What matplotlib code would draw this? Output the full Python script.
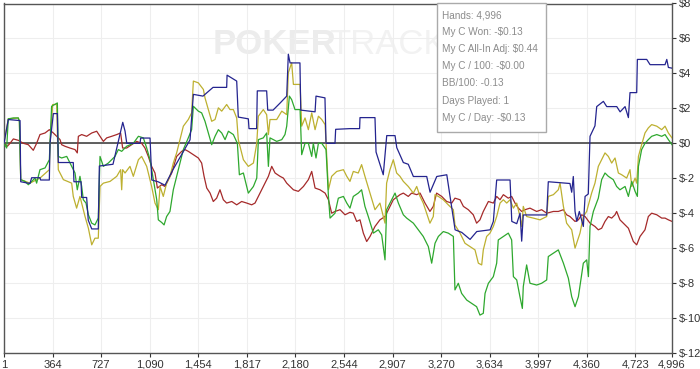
import matplotlib
matplotlib.use("Agg")
from matplotlib import pyplot as plt
from matplotlib.patches import Rectangle

# hands played (x) and cumulative winnings in $ (y)
blue_h = [1, 33, 121, 126, 195, 208, 270, 275, 340, 345, 370, 400, 407, 519, 524, 577, 582, 619, 631, 657,
          706, 714, 816, 889, 906, 919, 1018, 1023, 1093, 1106, 1153, 1205, 1265, 1340, 1392, 1417, 1489, 1564, 1666, 1669,
          1741, 1753, 1828, 1833, 1890, 1895, 1965, 1973, 2013, 2065, 2115, 2127, 2140, 2214, 2220, 2327, 2334, 2401, 2409, 2476,
          2481, 2588, 2660, 2663, 2775, 2783, 2837, 2863, 2925, 2938, 2987, 3024, 3062, 3162, 3187, 3237, 3312, 3374, 3424, 3486,
          3536, 3636, 3660, 3685, 3785, 3798, 3835, 3860, 3872, 3884, 4059, 4071, 4233, 4246, 4258, 4271, 4284, 4303, 4333, 4346,
          4370, 4383, 4420, 4433, 4483, 4508, 4583, 4608, 4645, 4670, 4682, 4732, 4737, 4807, 4832, 4944, 4957, 4969, 4996]
blue_v = [0.0, 1.36, 1.3, -2.2, -2.3, -1.97, -1.97, -2.1, -2.1, 0.0, 1.7, 1.7, -1.1, -1.1, -2.2, -2.2, -3.1, -3.1, -4.4, -4.9,
          -4.9, -1.3, -1.2, 1.2, 0.7, 0.0, 0.0, 0.3, 0.3, -2.1, -2.2, -2.4, -1.5, -0.5, 0.2, 2.8, 2.7, 3.2, 3.2, 3.9,
          3.56, 1.5, 1.4, 0.84, 0.84, 3.0, 3.0, 1.9, 1.9, 2.3, 2.7, 5.1, 4.6, 4.6, 1.9, 1.8, 2.7, 2.6, 0.0, 0.0,
          0.8, 0.84, 0.84, 1.47, 1.47, -0.5, -1.8, 0.44, 0.44, -0.25, -1.1, -1.2, -1.9, -1.9, -2.8, -1.9, -1.8, -4.95, -5.1, -5.5,
          -5.05, -4.95, -4.47, -2.1, -2.1, -4.47, -4.6, -4.0, -5.6, -4.1, -4.1, -2.2, -2.3, -2.8, -1.9, -3.9, -4.47, -3.9, -4.76, -3.04,
          -2.9, 0.4, 1.0, 2.1, 2.4, 2.1, 2.1, 1.8, 2.1, 1.47, 2.9, 2.9, 4.8, 4.8, 4.5, 4.5, 4.8, 4.34, 4.3]

yellow_h = [1, 33, 108, 116, 126, 195, 270, 340, 345, 365, 395, 407, 445, 507, 519, 544, 569, 607, 632, 657,
            681, 706, 719, 744, 794, 844, 873, 881, 888, 906, 943, 968, 1006, 1030, 1068, 1105, 1130, 1155, 1168, 1192,
            1217, 1242, 1267, 1292, 1317, 1342, 1379, 1404, 1417, 1454, 1492, 1504, 1529, 1554, 1579, 1604, 1629, 1666, 1691, 1716,
            1741, 1753, 1791, 1828, 1866, 1891, 1903, 1940, 1965, 1978, 1990, 2040, 2078, 2115, 2127, 2152, 2165, 2215, 2227, 2252,
            2277, 2302, 2327, 2352, 2377, 2402, 2427, 2451, 2489, 2539, 2564, 2588, 2613, 2650, 2675, 2700, 2738, 2775, 2812, 2850,
            2862, 2887, 2912, 2937, 2962, 2987, 3024, 3062, 3087, 3112, 3136, 3161, 3186, 3211, 3224, 3249, 3286, 3323, 3361, 3373,
            3411, 3448, 3485, 3523, 3548, 3573, 3585, 3610, 3635, 3660, 3685, 3710, 3735, 3760, 3785, 3810, 3835, 3859, 3872, 3884,
            3909, 3959, 4009, 4059, 4071, 4109, 4146, 4159, 4184, 4208, 4246, 4271, 4308, 4333, 4358, 4395, 4420, 4445, 4470, 4495,
            4520, 4545, 4570, 4595, 4620, 4657, 4682, 4695, 4720, 4732, 4745, 4769, 4794, 4819, 4844, 4882, 4919, 4944, 4969, 4996]
yellow_v = [0.0, 1.40, 1.45, 1.26, -2.08, -2.28, -1.99, -1.51, 0.0, 2.22, 2.22, -1.51, -2.08, -2.28, -3.04, -3.71, -3.04, -4.19, -4.86, -5.81,
            -5.43, -5.43, -2.47, -2.28, -2.18, -1.89, -1.51, -2.66, -1.51, -1.70, -1.32, -1.89, -0.94, -0.75, -1.32, -2.47, -3.42, -3.80, -2.47, -3.04,
            -2.28, -1.89, -1.13, -0.55, 0.21, 0.98, 1.36, 1.74, 3.56, 3.46, 3.08, 2.60, 1.93, 1.26, 1.36, 2.03, 1.84, 2.22, 1.93, 1.93,
            1.45, 0.21, -0.94, -1.32, -1.13, 0.0, 1.55, 1.93, 1.64, 0.50, 1.36, 1.36, 1.84, 1.64, 4.03, 4.61, 3.37, 3.37, 0.98, 1.45,
            0.78, 1.74, 0.78, 1.55, 1.36, 1.07, -2.66, -1.89, -1.61, -1.51, -1.89, -2.18, -1.61, -1.70, -1.22, -1.89, -2.85, -3.80, -3.42, -4.57,
            -2.28, -1.51, -0.94, -1.70, -1.89, -2.18, -2.47, -2.85, -2.47, -3.04, -3.42, -4.00, -4.57, -4.19, -2.94, -3.04, -3.23, -3.52, -3.80, -4.67,
            -5.14, -5.72, -5.91, -6.10, -6.86, -6.96, -6.10, -5.33, -5.14, -4.76, -4.19, -3.42, -3.23, -3.42, -3.23, -3.71, -3.42, -4.19, -4.76, -3.61,
            -4.19, -4.28, -4.38, -4.19, -3.04, -2.94, -2.66, -2.28, -3.61, -4.57, -4.95, -6.00, -5.14, -4.19, -3.90, -2.85, -2.28, -1.32, -0.94, -0.55,
            -0.75, -1.13, -0.84, -1.70, -1.80, -1.99, -1.51, -2.47, -1.99, -2.28, -0.75, -0.08, 0.59, 0.88, 1.07, 0.98, 0.78, 0.98, 0.59, 0.31]

green_h = [1, 21, 33, 71, 108, 116, 126, 158, 183, 208, 233, 245, 270, 308, 340, 345, 357, 400, 407, 432,
           470, 507, 532, 549, 569, 582, 594, 614, 632, 657, 681, 706, 719, 744, 781, 831, 856, 881, 918, 968,
           1006, 1043, 1068, 1093, 1118, 1143, 1155, 1180, 1198, 1217, 1242, 1267, 1292, 1317, 1342, 1379, 1404, 1417, 1454, 1479,
           1504, 1529, 1554, 1579, 1604, 1629, 1654, 1679, 1716, 1746, 1761, 1791, 1828, 1866, 1891, 1903, 1940, 1965, 1978, 1990,
           2040, 2078, 2102, 2115, 2135, 2152, 2177, 2215, 2227, 2252, 2277, 2302, 2314, 2334, 2352, 2377, 2409, 2427, 2439, 2476,
           2501, 2539, 2564, 2588, 2613, 2650, 2675, 2700, 2725, 2763, 2800, 2825, 2850, 2862, 2887, 2925, 2950, 2987, 3012, 3062,
           3099, 3136, 3174, 3199, 3224, 3249, 3286, 3323, 3361, 3373, 3398, 3423, 3461, 3498, 3535, 3560, 3585, 3598, 3623, 3660,
           3685, 3697, 3735, 3772, 3797, 3810, 3835, 3859, 3877, 3884, 3909, 3934, 3984, 4021, 4059, 4071, 4109, 4146, 4184, 4221,
           4246, 4271, 4296, 4333, 4358, 4371, 4383, 4408, 4445, 4470, 4495, 4520, 4557, 4582, 4607, 4645, 4670, 4695, 4720, 4737,
           4745, 4769, 4794, 4819, 4844, 4882, 4919, 4944, 4969, 4996]
green_v = [0.0, -0.27, 1.40, 1.45, 1.45, 1.26, -2.08, -2.18, -2.37, -2.18, -1.99, -2.28, -1.51, -1.41, -0.94, 0.0, 2.12, 2.31, -0.75, -0.84,
           -0.75, -1.32, -1.70, -2.66, -1.89, -2.47, -3.23, -3.42, -4.09, -4.57, -4.67, -4.28, -0.75, -1.32, -1.13, -0.75, -0.36, -0.46, -0.17, 0.0,
           0.40, 0.31, -0.27, -0.94, -2.08, -3.23, -4.38, -4.53, -4.67, -4.19, -3.90, -2.66, -1.89, -1.13, -0.36, 0.31, 0.78, 2.12, 1.84, 1.74,
           1.26, 0.59, -0.08, 0.40, 0.78, 0.59, 0.21, 0.69, 0.50, 0.0, -1.80, -1.70, -2.85, -2.47, -1.99, 0.21, 0.31, 0.59, -1.32, 0.31,
           0.11, 0.21, 0.50, 0.98, 2.70, 2.50, 1.93, 1.93, -0.65, 0.0, 0.0, -0.75, 0.0, -0.84, 0.0, 0.0, -0.36, -3.04, -4.28, -4.00,
           -3.14, -3.04, -3.42, -3.71, -3.04, -2.85, -2.66, -3.61, -4.19, -5.14, -4.95, -5.24, -6.67, -3.80, -3.42, -2.85, -3.42, -4.09, -4.28, -4.57,
           -4.95, -5.33, -5.91, -6.86, -5.72, -5.33, -5.05, -5.14, -5.33, -8.39, -8.01, -8.59, -8.97, -9.16, -9.35, -9.83, -9.73, -8.59, -8.01, -7.63,
           -6.86, -5.53, -5.33, -5.14, -5.53, -7.63, -7.82, -8.78, -9.45, -8.20, -6.96, -8.01, -8.11, -8.01, -7.82, -6.48, -6.29, -6.10, -6.86, -7.72,
           -8.78, -9.35, -8.78, -6.86, -6.67, -7.63, -4.76, -3.90, -3.14, -2.08, -1.70, -1.89, -2.08, -2.47, -2.66, -2.47, -3.04, -2.18, -2.75, -3.04,
           -1.32, -0.36, 0.0, 0.21, 0.40, 0.50, 0.40, 0.50, 0.21, -0.08]

red_h = [1, 26, 46, 71, 108, 146, 183, 220, 245, 270, 308, 340, 370, 395, 420, 432, 457, 494, 532, 549,
         557, 582, 619, 657, 694, 719, 744, 769, 806, 844, 873, 888, 918, 956, 993, 1030, 1055, 1080, 1105, 1130,
         1148, 1180, 1205, 1230, 1255, 1292, 1330, 1354, 1379, 1417, 1454, 1479, 1497, 1517, 1542, 1566, 1591, 1616, 1641, 1666,
         1704, 1741, 1778, 1816, 1853, 1878, 1903, 1940, 1978, 2003, 2028, 2065, 2090, 2115, 2140, 2165, 2202, 2240, 2277, 2302,
         2327, 2364, 2402, 2427, 2451, 2476, 2514, 2551, 2588, 2613, 2638, 2663, 2688, 2713, 2738, 2775, 2812, 2850, 2875, 2912,
         2962, 2987, 3024, 3049, 3087, 3112, 3149, 3186, 3211, 3236, 3274, 3311, 3349, 3373, 3411, 3436, 3473, 3510, 3535, 3560,
         3585, 3623, 3660, 3685, 3710, 3735, 3772, 3797, 3822, 3847, 3872, 3897, 3934, 3984, 4021, 4059, 4109, 4146, 4184, 4208,
         4233, 4271, 4296, 4321, 4346, 4383, 4420, 4445, 4470, 4495, 4520, 4545, 4570, 4582, 4607, 4632, 4670, 4707, 4732, 4757,
         4794, 4819, 4844, 4882, 4919, 4944, 4969, 4996]
red_v = [0.0, -0.17, 0.0, 0.25, 0.17, 0.0, -0.08, -0.40, 0.0, 0.50, 0.59, 0.78, 0.59, 0.40, 0.21, -0.08, -0.17, -0.27, -0.36, -0.55,
         0.40, 0.50, 0.40, 0.59, 0.69, 0.40, 0.11, 0.31, 0.40, 0.50, 0.59, -0.27, -0.27, -0.08, 0.11, 0.0, -0.27, -0.75, -1.32, -1.70,
         -2.56, -2.37, -2.47, -2.08, -1.70, -0.75, -0.46, -0.36, -0.46, -0.65, -0.84, -1.13, -1.89, -2.56, -2.85, -3.33, -3.14, -2.66, -3.23, -3.42,
         -3.33, -3.52, -3.33, -3.42, -3.52, -3.42, -3.04, -2.47, -1.89, -1.32, -1.70, -1.89, -1.99, -2.28, -2.47, -2.66, -2.75, -2.47, -2.08, -1.61,
         -2.56, -2.66, -2.85, -3.23, -4.00, -3.90, -3.80, -4.09, -3.95, -4.00, -4.47, -4.38, -5.14, -5.62, -5.33, -4.76, -4.38, -4.19, -3.80, -3.23,
         -2.94, -2.85, -3.04, -2.85, -2.94, -2.85, -3.42, -3.90, -3.61, -2.85, -3.04, -3.33, -3.42, -3.14, -3.23, -3.61, -3.80, -4.09, -4.57, -4.38,
         -3.90, -3.33, -3.42, -3.04, -3.23, -2.94, -3.14, -3.04, -3.42, -3.71, -3.90, -3.80, -3.71, -3.90, -3.80, -4.00, -3.90, -3.90, -3.80, -4.09,
         -4.19, -4.47, -4.38, -4.09, -4.19, -4.57, -4.76, -4.95, -4.86, -4.47, -4.19, -4.28, -4.09, -3.90, -4.38, -4.57, -4.86, -5.62, -5.81, -5.33,
         -4.95, -4.19, -4.00, -4.09, -4.28, -4.28, -4.38, -4.47]

x_ticks = [1, 364, 727, 1090, 1454, 1817, 2180, 2544, 2907, 3270, 3634, 3997, 4360, 4723, 4996]
y_ticks = [8, 6, 4, 2, 0, -2, -4, -6, -8, -10, -12]

info_lines = ["Hands: 4,996", "My C Won: -$0.13", "My C All-In Adj: $0.44", "My C / 100: -$0.00",
              "BB/100: -0.13", "Days Played: 1", "My C / Day: -$0.13"]

plt.rcParams['font.family'] = ['Liberation Sans', 'DejaVu Sans']
fig = plt.figure(figsize=(7, 3.69), dpi=100)
ax = fig.add_axes([4 / 700, 16 / 369, 668 / 700, 349.5 / 369])

# watermark (the tail of it sits under the info box)
ax.text(0.312, 0.93, "POKER", transform=ax.transAxes, fontsize=25, fontweight="bold",
        color="#ececec", va="top", ha="left", zorder=0)
ax.text(0.487, 0.93, "TRACK", transform=ax.transAxes, fontsize=25,
        color="#f2f2f2", va="top", ha="left", zorder=0)

ax.axhline(0, color="#444444", lw=1.2, zorder=1)
ax.plot(red_h, red_v, color="#a52a2a", lw=0.9, zorder=2)
ax.plot(yellow_h, yellow_v, color="#bdb030", lw=0.9, zorder=3)
ax.plot(green_h, green_v, color="#2ea82e", lw=0.9, zorder=4)
ax.plot(blue_h, blue_v, color="#24248f", lw=0.9, zorder=5)

ax.set_xlim(1, 4996)
ax.set_ylim(-12, 8)
ax.set_xticks(x_ticks)
ax.set_xticklabels([f"{t:,}" for t in x_ticks])
ax.set_yticks(y_ticks)
ax.set_yticklabels([f"${t}" for t in y_ticks])
ax.yaxis.tick_right()
ax.tick_params(axis="both", labelsize=8, colors="#333333", length=3, width=0.8, pad=2)
ax.grid(True, color="#eeeeee", lw=0.8)
ax.set_axisbelow(True)
for s in ax.spines.values():
    s.set_color("#555555")
    s.set_linewidth(1.0)

# info box
fig.patches.append(Rectangle((437 / 700, 237 / 369), 109 / 700, 129 / 369, transform=fig.transFigure,
                             facecolor="white", edgecolor="#aaaaaa", lw=1.0, zorder=10))
for i, line in enumerate(info_lines):
    fig.text(442 / 700, (369 - 15 - i * 17.1) / 369, line, fontsize=7.2, color="#8c8c8c",
             va="center", ha="left", zorder=11)

plt.savefig("out.png", dpi=100)
